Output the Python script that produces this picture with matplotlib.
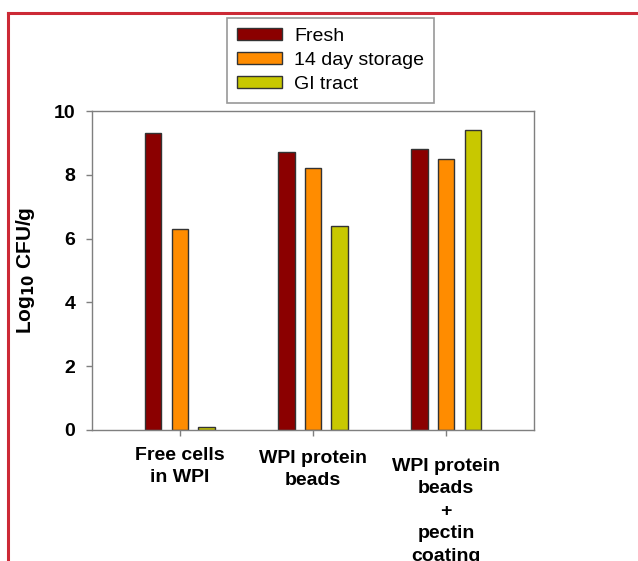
import matplotlib
matplotlib.use("Agg")
import matplotlib.pyplot as plt
import matplotlib.transforms as mtransforms
import numpy as np

plt.rcParams['font.family'] = ['Liberation Sans', 'DejaVu Sans']

categories = ["Free cells\nin WPI", "WPI protein\nbeads", "WPI protein\nbeads\n+\npectin\ncoating"]
series_names = ["Fresh", "14 day storage", "GI tract"]
fresh = [9.3, 8.7, 8.8]
storage = [6.3, 8.2, 8.5]
gi_tract = [0.1, 6.4, 9.4]
colors = ["#8b0000", "#ff8c00", "#c8c800"]
yticks = [0, 2, 4, 6, 8, 10]

fig = plt.figure(figsize=(6.38, 5.61), dpi=100)
ax = fig.add_axes([92/638, 1 - 430/561, (534-92)/638, (430-111)/561])

x = np.arange(len(categories))
w = 0.124
off = 0.2
for i, (vals, name, c) in enumerate(zip([fresh, storage, gi_tract], series_names, colors)):
    ax.bar(x + (i - 1) * off, vals, width=w, color=c, edgecolor="#333333",
           linewidth=1.0, label=name)

ax.set_xlim(-0.66, 2.66)
ax.set_ylim(0, 10)
ax.set_yticks(yticks)
ax.set_yticklabels([str(v) for v in yticks], fontsize=14, fontweight='bold')
ax.set_xticks(x)
ax.set_xticklabels(categories, fontsize=14, fontweight='bold', linespacing=1.42)
for s in ax.spines.values():
    s.set_color("#7f7f7f")
    s.set_linewidth(1.0)
ax.tick_params(axis='both', direction='out', length=4, color="#7f7f7f", width=1.0)
ax.tick_params(axis='x', pad=8)
ax.tick_params(axis='y', pad=8)

labs = ax.get_xticklabels()
for lab, dy in zip(labs, [0, 3, 11]):
    lab.set_transform(lab.get_transform() +
                      mtransforms.ScaledTranslation(0, -dy/100, fig.dpi_scale_trans))

ax.set_ylabel("Log$_{\\mathbf{10}}$ CFU/g", fontsize=15, fontweight='bold')
ax.yaxis.set_label_coords(-0.124, 0.5)

leg = fig.legend(loc='upper left', bbox_to_anchor=(227/638, 1 - 18/561), fontsize=14,
                 frameon=True, fancybox=False, edgecolor="#7f7f7f",
                 handlelength=2.35, handleheight=0.6, borderpad=0.5,
                 labelspacing=0.36, handletextpad=0.6, borderaxespad=0)
leg.get_frame().set_linewidth(1.2)

# red outer frame
fig.add_artist(plt.Line2D([8/638, 1.0], [1 - 13/561, 1 - 13/561], transform=fig.transFigure,
                          color="#cc2a36", linewidth=2.2))
fig.add_artist(plt.Line2D([8/638, 8/638], [0.0, 1 - 13/561], transform=fig.transFigure,
                          color="#cc2a36", linewidth=2.2))

fig.savefig("out.png", dpi=100)
